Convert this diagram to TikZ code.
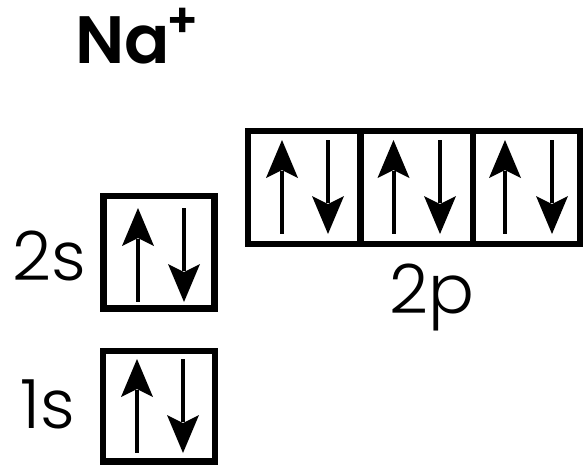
\documentclass[tikz,border=0pt]{standalone}
\usepackage{fontspec}
\setmainfont{Poppins}
\newfontfamily\lightfont{Poppins Light}
\newfontfamily\semifont{Poppins SemiBold}
\tikzset{
  orb/.style={draw=black, line width=6.5pt, line join=miter},
  upspin/.pic={
    \fill[black] (0,0) -- (16,38) -- (0,30) -- (-16,38) -- cycle;
    \draw[line width=4pt] (0,31) -- (0,94);
  },
  downspin/.pic={
    \draw[line width=4pt] (0,0) -- (0,63);
    \fill[black] (0,94) -- (16,56) -- (0,64) -- (-16,56) -- cycle;
  },
  lbl/.style={inner sep=0pt, anchor=base west, font=\lightfont\fontsize{68}{68}\selectfont},
}
\begin{document}
\begin{tikzpicture}[x=1pt,y=-1pt]
\useasboundingbox[fill=white] (0,0) rectangle (585,467);
% title
\node[inner sep=0pt, anchor=base west, font=\semifont\fontsize{67}{67}\selectfont] (ion) at (75,63) {Na};
\node[inner sep=0pt, font=\semifont\fontsize{48}{48}\selectfont] (chg) at (183,22.5) {+};
% 2p
\draw[orb] (248,131) rectangle (580,244);
\draw[orb] (360.5,131) -- (360.5,244);
\draw[orb] (472.8,131) -- (472.8,244);
\foreach \u/\d in {282/328, 393.5/440, 505/552}{
  \pic at (\u,140) {upspin};
  \pic at (\d,140) {downspin};
}
\node[lbl] (l2p) at (389,313) {2p};
% 2s
\draw[orb] (103.5,196) rectangle (214.5,308.5);
\pic at (138,208) {upspin};
\pic at (184,208) {downspin};
\node[lbl] (l2s) at (12,280) {2s};
% 1s
\draw[orb] (103,351) rectangle (215,461.5);
\pic at (137,359) {upspin};
\pic at (183,359) {downspin};
\node[lbl] (l1s) at (20,428) {1s};
\end{tikzpicture}
\end{document}
